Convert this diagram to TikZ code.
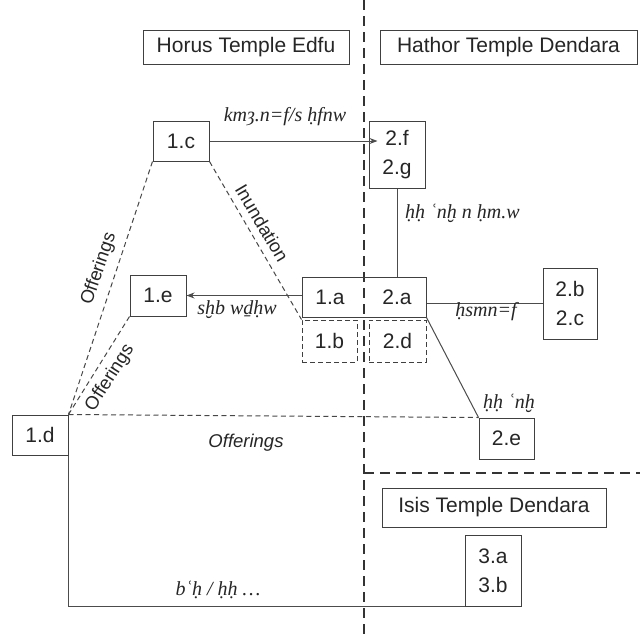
\documentclass[tikz,border=0pt]{standalone}
\usepackage{fontspec}
\setmainfont{Liberation Sans}
\newfontfamily\trans{Liberation Serif}
\usetikzlibrary{arrows.meta}
\tikzset{
  box/.style={draw=black!75, line width=1pt, inner sep=0pt, text=black!85,
    font=\fontsize{21}{29}\selectfont, align=center},
  dbox/.style={box, dashed, dash pattern=on 5pt off 3pt},
  title/.style={box},
  plain/.style={inner sep=0pt, text=black!85, font=\fontsize{21}{29}\selectfont},
  conn/.style={draw=black!70, line width=1pt},
  fine/.style={draw=black!72, line width=1pt, dash pattern=on 5pt off 3.5pt},
  region/.style={draw=black!80, line width=1.4pt, dash pattern=on 10pt off 6pt},
  tl/.style={inner sep=0pt, text=black!85, font=\trans\itshape\fontsize{20}{24}\selectfont},
  sl/.style={inner sep=0pt, text=black!85, font=\fontsize{18.5}{22}\selectfont},
  arr/.style={conn, -{Stealth[length=8pt,width=6pt]}}
}
\begin{document}
\begin{tikzpicture}[x=1pt,y=-1pt]
\useasboundingbox (0,0) rectangle (640,638);
\fill[white] (0,0) rectangle (640,638);

% region boundaries
\coordinate (vtop) at (364,0);
\coordinate (vbot) at (364,638);
\coordinate (hcorner) at (364,473);
\coordinate (hend) at (640,473);
\draw[region] (vtop) -- (vbot);
\draw[region] (hcorner) -- (hend);

% titles
\node[title, minimum width=206, minimum height=34] (horus) at (246,47) {Horus Temple Edfu};
\node[title, minimum width=257, minimum height=34] (hathor) at (508.5,47) {Hathor Temple Dendara};
\node[title, minimum width=224, minimum height=39] (isis) at (494,507.5) {Isis Temple Dendara};

% boxes
\node[box, fill=white, minimum width=56, minimum height=40] (c1) at (181,141) {1.c};
\node[box, fill=white, minimum width=56, minimum height=67] (fg2) at (397,154.5) {2.f\\2.g};
\node[box, fill=white, minimum width=56, minimum height=41] (e1) at (158,295.5) {1.e};
\node[box, minimum width=124, minimum height=40] (a12) at (364,297) {};
\node[plain] (a1) at (330,297) {1.a};
\node[plain] (a2) at (397,297) {2.a};
\node[dbox, minimum width=55, minimum height=42] (b1) at (329.5,341) {1.b};
\node[dbox, minimum width=57, minimum height=42] (d2) at (397.5,341) {2.d};
\node[box, fill=white, minimum width=54, minimum height=71] (bc2) at (570,303.5) {2.b\\2.c};
\node[box, fill=white, minimum width=56, minimum height=40] (d1) at (40,435) {1.d};
\node[box, fill=white, minimum width=55, minimum height=41] (e2) at (506.5,438.5) {2.e};
\node[box, fill=white, minimum width=56, minimum height=71] (ab3) at (493,570.5) {3.a\\3.b};

% connectors
\coordinate (fgin) at ([xshift=9pt]fg2.west |- c1.east);
\draw[arr] (c1.east) -- (fgin);
\draw[arr] (a12.west |- e1.east) -- (e1.east);
\draw[conn] (fg2.south) -- (fg2.south |- a12.north);
\draw[conn] (a12.east |- bc2.west) -- (bc2.west);
\draw[conn] (a12.south east) -- (e2.north west);
\draw[fine] (c1.south east) -- (b1.north west);
\draw[fine] (c1.south west) -- (d1.north east);
\draw[fine] (e1.south west) -- (d1.north east);
\draw[fine] (d1.north east) -- (e2.north west);
\coordinate (lowcorner) at (d1.south east |- ab3.south west);
\draw[conn] (d1.south east) -- (lowcorner) -- (ab3.south west);

% transliteration labels
\node[tl] (lkm) at (285,117) {kmȝ.n=f/s ḥfnw};
\node[tl, anchor=west] (lhh) at (405,213) {ḥḥ ʿnḫ n ḥm.w};
\node[tl] (lshb) at (237,310) {sḫb wḏḥw};
\node[tl] (lhsmn) at (486,312) {ḥsmn=f};
\node[tl] (lhhankh) at (509,403) {ḥḥ ʿnḫ};
\node[tl] (lbah) at (218,590) {bʿḥ / ḥḥ …};

% sans labels
\node[sl, rotate=71] (off1) at (99,269) {Offerings};
\node[sl, rotate=57.5] (off2) at (110,378) {Offerings};
\node[sl, font=\itshape\fontsize{18.5}{22}\selectfont] (off3) at (246,443) {Offerings};
\node[sl, rotate=-59.5] (inund) at (262,223) {Inundation};
\end{tikzpicture}
\end{document}
